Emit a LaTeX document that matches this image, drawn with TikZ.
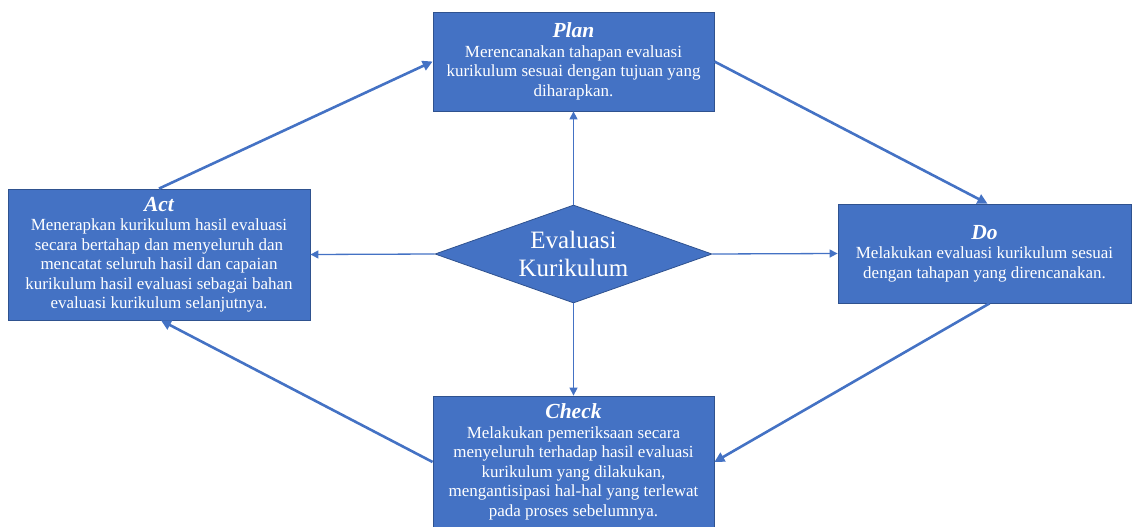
\documentclass[tikz,border=0pt]{standalone}
\usepackage{fontspec}
\setmainfont{Liberation Serif}
\usetikzlibrary{shapes.geometric, arrows.meta, positioning}
\definecolor{pdcafill}{RGB}{68,114,196}
\definecolor{pdcaline}{RGB}{47,82,143}
\newcommand{\stagetitle}[1]{{\fontsize{21.5}{21.5}\selectfont\bfseries\itshape #1}}

\begin{document}
\begin{tikzpicture}[x=1pt, y=-1pt,
  stagebox/.style={draw=pdcaline, line width=0.8pt, fill=pdcafill, text=white,
    align=center, inner sep=0pt, font=\fontsize{17}{19.5}\selectfont},
  hub/.style={diamond, aspect=2.8, draw=pdcaline, line width=0.8pt, fill=pdcafill,
    text=white, align=center, inner sep=0pt, minimum width=277pt, minimum height=98pt,
    font=\fontsize{25}{28}\selectfont},
  spoke/.style={draw=pdcafill, line width=1.3pt, -{Triangle[length=8pt, width=8pt]}},
  cycle arrow/.style={draw=pdcafill, line width=2.6pt, -{Triangle[length=10pt, width=10pt]}}]
  \useasboundingbox (0,0) rectangle (1132,527);

  % the four stages
  \node[stagebox, minimum width=281pt, minimum height=99pt] (plan) at (573.5,61.5)
    {\stagetitle{Plan}\\ Merencanakan tahapan evaluasi\\ kurikulum sesuai dengan tujuan yang\\ diharapkan.};
  \node[stagebox, minimum width=302pt, minimum height=131pt] (act) at (159,254.5)
    {\stagetitle{Act}\\ Menerapkan kurikulum hasil evaluasi\\ secara bertahap dan menyeluruh dan\\ mencatat seluruh hasil dan capaian\\ kurikulum hasil evaluasi sebagai bahan\\ evaluasi kurikulum selanjutnya.};
  \node[stagebox, minimum width=293pt, minimum height=99pt] (do) at (984.5,253.5)
    {\stagetitle{Do}\\ Melakukan evaluasi kurikulum sesuai\\ dengan tahapan yang direncanakan.};
  \node[stagebox, minimum width=281pt, minimum height=132pt] (check) at (573.5,462)
    {\stagetitle{Check}\\ Melakukan pemeriksaan secara\\ menyeluruh terhadap hasil evaluasi\\ kurikulum yang dilakukan,\\ mengantisipasi hal-hal yang terlewat\\ pada proses sebelumnya.};

  % centre
  \node[hub] (hub) at (573.5,254) {Evaluasi\\ Kurikulum};

  \draw[spoke] (hub.north) -- (plan.south);
  \draw[spoke] (hub.west) -- (act.east);
  \draw[spoke] (hub.east) -- (do.west);
  \draw[spoke] (hub.south) -- (check.north);

  \draw[cycle arrow] (act.north) -- (plan.west);
  \draw[cycle arrow] (plan.east) -- ([xshift=3pt]do.north);
  \draw[cycle arrow] ([xshift=5pt]do.south) -- (check.east);
  \draw[cycle arrow] (check.west) -- ([xshift=2pt]act.south);
\end{tikzpicture}
\end{document}
